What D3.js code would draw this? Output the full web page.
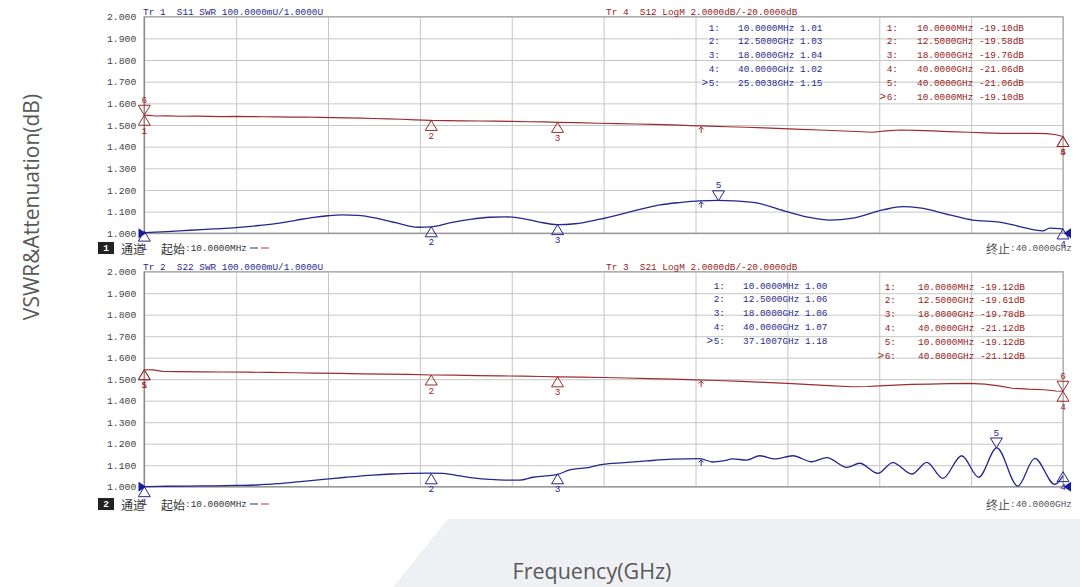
<!DOCTYPE html>
<html><head><meta charset="utf-8">
<script src="https://cdn.jsdelivr.net/npm/d3@7"></script>
<style>body{margin:0;background:#fff;} svg{display:block;}</style>
</head><body><svg id="c" width="1080" height="587"></svg>
<script>
// ---------- DATA ----------
const yTickVals = [1.0,1.1,1.2,1.3,1.4,1.5,1.6,1.7,1.8,1.9,2.0];
const xGridVals = [0.01,4.009,8.008,12.007,16.006,20.005,24.004,28.003,32.002,36.001,40];

// Top panel: S11 SWR (blue)
const s11F = [0.01,1.0,2.0,3.0,4.0,5.0,5.8,6.6,7.4,8.0,8.6,9.3,10.2,11.0,11.92,12.5,13.3,14.2,15.05,15.7,16.5,17.2,18.0,18.75,19.84,21.2,22.45,23.3,24.19,25.0,25.63,26.67,27.98,28.9,29.85,30.85,32.16,33.03,33.76,35.07,36.07,37.25,38.12,39.12,39.42,40.0];
const s11V = [1.003,1.008,1.014,1.020,1.026,1.036,1.046,1.060,1.074,1.081,1.085,1.083,1.068,1.048,1.028,1.030,1.048,1.064,1.074,1.076,1.068,1.052,1.040,1.044,1.065,1.100,1.131,1.142,1.150,1.152,1.150,1.140,1.100,1.075,1.061,1.070,1.108,1.123,1.117,1.085,1.061,1.052,1.031,1.011,1.024,1.020];
// Top panel: S12 LogM dB (red)
const s12F = [0.01,0.2,0.5,1.0,1.6,2.2,2.8,3.4,4.0,4.6,5.2,5.8,6.4,7.0,7.6,8.2,8.8,9.4,10.0,10.6,11.2,11.8,12.5,13.2,13.9,14.6,15.3,16.0,16.7,17.4,18.0,18.8,19.8,20.6,21.4,22.2,23.0,23.8,24.6,25.4,26.2,27.0,27.8,28.6,29.4,30.2,31.0,31.7,32.3,32.9,33.6,34.3,35.0,35.9,36.6,37.3,38.0,38.7,39.3,39.7,40.0];
const s12dB = [-19.10,-19.12,-19.17,-19.16,-19.19,-19.18,-19.20,-19.22,-19.21,-19.23,-19.24,-19.25,-19.27,-19.26,-19.30,-19.32,-19.35,-19.37,-19.40,-19.43,-19.47,-19.52,-19.58,-19.60,-19.61,-19.63,-19.65,-19.67,-19.70,-19.72,-19.76,-19.78,-19.84,-19.88,-19.91,-19.95,-19.99,-20.05,-20.11,-20.16,-20.21,-20.27,-20.34,-20.40,-20.46,-20.53,-20.60,-20.67,-20.55,-20.46,-20.50,-20.55,-20.62,-20.67,-20.72,-20.77,-20.77,-20.77,-20.79,-20.90,-21.06];

// Bottom panel: S22 SWR (blue)
const s22F = [0.01,1.0,2.0,3.0,4.0,4.9,5.8,6.8,7.8,8.8,9.96,10.8,11.57,12.5,13.01,13.75,14.4,15.05,15.7,16.36,16.92,17.5,17.97,18.53,19.4,19.96,20.9,21.88,23.01,24.19,24.75,25.2,25.62,26.23,26.8,27.45,28.24,29.06,29.72,30.59,31.15,31.94,32.59,33.42,34.07,34.77,35.59,36.33,37.12,38.03,38.77,39.64,40.0];
const s22V = [1.000,1.002,1.003,1.004,1.006,1.008,1.014,1.024,1.034,1.044,1.054,1.059,1.062,1.063,1.062,1.050,1.040,1.034,1.031,1.031,1.044,1.050,1.056,1.078,1.090,1.104,1.112,1.120,1.128,1.131,1.115,1.120,1.129,1.124,1.144,1.129,1.144,1.116,1.135,1.090,1.109,1.062,1.112,1.059,1.113,1.039,1.144,1.044,1.181,1.003,1.132,1.011,1.050];
// Bottom panel: S21 LogM dB (red)
const s21F = [0.01,0.4,0.8,1.5,2.5,3.5,4.5,5.5,6.5,7.5,8.5,9.5,10.5,11.5,12.5,13.5,14.5,15.5,16.5,17.3,18.0,19.0,20.0,21.0,22.0,23.0,24.0,25.0,26.0,27.0,28.0,29.0,29.8,30.8,31.5,32.0,32.7,33.4,34.2,35.0,35.9,36.6,37.2,37.8,38.5,39.2,39.7,40.0];
const s21dB = [-19.12,-19.14,-19.27,-19.29,-19.31,-19.33,-19.35,-19.37,-19.40,-19.43,-19.46,-19.50,-19.53,-19.56,-19.61,-19.63,-19.66,-19.69,-19.72,-19.75,-19.78,-19.80,-19.84,-19.89,-19.94,-20.00,-20.07,-20.12,-20.20,-20.29,-20.38,-20.50,-20.60,-20.70,-20.68,-20.63,-20.56,-20.49,-20.46,-20.42,-20.39,-20.45,-20.62,-20.84,-20.93,-20.98,-21.10,-21.12];

// Markers
const s11Markers = [{n:"1",f:0.01,v:1.01},{n:"2",f:12.5,v:1.03},{n:"3",f:18,v:1.04},{n:"4",f:40,v:1.02},{n:"5",f:25.0038,v:1.15,active:true}];
const s12Markers = [{n:"1",f:0.01,v:-19.10},{n:"2",f:12.5,v:-19.58},{n:"3",f:18,v:-19.76},{n:"4",f:40,v:-21.06},{n:"5",f:40,v:-21.06},{n:"6",f:0.01,v:-19.10,active:true}];
const s22Markers = [{n:"1",f:0.01,v:1.00},{n:"2",f:12.5,v:1.06},{n:"3",f:18,v:1.06},{n:"4",f:40,v:1.07},{n:"5",f:37.1007,v:1.18,active:true}];
const s21Markers = [{n:"1",f:0.01,v:-19.12},{n:"2",f:12.5,v:-19.61},{n:"3",f:18,v:-19.78},{n:"4",f:40,v:-21.12},{n:"5",f:0.01,v:-19.12},{n:"6",f:40,v:-21.12,active:true}];

const headers = [
  ["Tr 1  S11 SWR 100.0000mU/1.0000U", "Tr 4  S12 LogM 2.0000dB/-20.0000dB"],
  ["Tr 2  S22 SWR 100.0000mU/1.0000U", "Tr 3  S21 LogM 2.0000dB/-20.0000dB"]
];
const startLabel = ":10.0000MHz";
const stopLabel = ":40.0000GHz";
const arrowF = 24.25;

// ---------- DRAW ----------
const svg = d3.select("#c");
const MONO = "'Liberation Mono', monospace";
const CJK = "'Noto Sans CJK SC', sans-serif";
const SANS = "'Open Sans', sans-serif";
const BLUE = "#26268c", RED = "#9e2b2b";
const BLUE_T = "#2a2a8e", RED_T = "#962222";

svg.append("polygon").attr("points","448,519 1080,519 1080,587 393,587").attr("fill","#eef0f4");

const x = d3.scaleLinear().domain([0.01,40]).range([144.3,1063]);
const W = 1063 - 144.3;

const panels = [
  {top:16.7, bottom:233.3, blue:[s11F,s11V], red:[s12F,s12dB], bm:s11Markers, rm:s12Markers,
   hdrY:12, tblBlue:{end:720, val:738, y0:28}, tblRed:{end:898, val:917, y0:28}, statY:248, ch:"1"},
  {top:271.7, bottom:486.7, blue:[s22F,s22V], red:[s21F,s21dB], bm:s22Markers, rm:s21Markers,
   hdrY:267, tblBlue:{end:725, val:743, y0:286}, tblRed:{end:896, val:918, y0:287}, statY:504, ch:"2"}
];

function fmtF(f){ return f < 1 ? (f*1000).toFixed(4)+"MHz" : f.toFixed(4)+"GHz"; }

panels.forEach((p, pi) => {
  const g = svg.append("g");
  const yS = d3.scaleLinear().domain([1,2]).range([p.bottom, p.top]);
  const yD = d3.scaleLinear().domain([-30,-10]).range([p.bottom, p.top]);
  const H = p.bottom - p.top;

  // y grid + labels
  const ya = g.append("g").attr("transform",`translate(144.3,0)`)
    .call(d3.axisLeft(yS).tickValues(yTickVals).tickFormat(d3.format(".3f")).tickSize(-W).tickPadding(8));
  ya.select(".domain").remove();
  ya.selectAll("line").attr("stroke","#c6c6c6").attr("stroke-width",1);
  ya.selectAll("text").attr("font-family",MONO).attr("font-size",9.8).attr("fill","#444");
  // x grid
  const xa = g.append("g").attr("transform",`translate(0,${p.bottom})`)
    .call(d3.axisBottom(x).tickValues(xGridVals).tickFormat("").tickSize(-H));
  xa.select(".domain").remove();
  xa.selectAll("line").attr("stroke","#c6c6c6").attr("stroke-width",1);
  // frame
  g.append("rect").attr("x",144.3).attr("y",p.top).attr("width",W).attr("height",H)
    .attr("fill","none").attr("stroke","#a8a8a8").attr("stroke-width",1.2);
  g.append("line").attr("x1",144.3).attr("x2",144.3).attr("y1",p.top).attr("y2",p.bottom).attr("stroke","#8a8a8a").attr("stroke-width",1.3);
  g.append("line").attr("x1",144.3).attr("x2",1063).attr("y1",p.bottom).attr("y2",p.bottom).attr("stroke","#9a9a9a").attr("stroke-width",1.3);

  // headers
  g.append("text").attr("x",143).attr("y",p.hdrY).attr("font-family",MONO).attr("font-size",9.4)
    .attr("fill",BLUE_T).style("white-space","pre").attr("dominant-baseline","central").text(headers[pi][0]);
  g.append("text").attr("x",606).attr("y",p.hdrY).attr("font-family",MONO).attr("font-size",9.4)
    .attr("fill",RED_T).style("white-space","pre").attr("dominant-baseline","central").text(headers[pi][1]);

  // tables
  function table(ms, t, color, isDB){
    ms.forEach((m,i)=>{
      const yy = t.y0 + i*13.8;
      g.append("text").attr("x",t.end).attr("y",yy).attr("text-anchor","end").attr("dominant-baseline","central")
        .attr("font-family",MONO).attr("font-size",9.4).attr("fill",color).text(m.n+":");
      if (m.active) g.append("text").attr("x",t.end-12).attr("y",yy).attr("text-anchor","end").attr("dominant-baseline","central")
        .attr("font-family",MONO).attr("font-size",11).attr("fill",color).text(">");
      g.append("text").attr("x",t.val).attr("y",yy).attr("dominant-baseline","central")
        .attr("font-family",MONO).attr("font-size",9.4).attr("fill",color)
        .text(fmtF(m.f)+" "+(isDB ? m.v.toFixed(2)+"dB" : m.v.toFixed(2)));
    });
  }
  table(p.bm, p.tblBlue, BLUE_T, false);
  table(p.rm, p.tblRed, RED_T, true);

  // traces
  const redData = p.red[0].map((f,i)=>({f, v:p.red[1][i]}));
  const blueData = p.blue[0].map((f,i)=>({f, v:p.blue[1][i]}));
  g.append("path").datum(redData).attr("fill","none").attr("stroke",RED).attr("stroke-width",1.2)
    .attr("d", d3.line().x(d=>x(d.f)).y(d=>yD(d.v)).curve(d3.curveLinear));
  g.append("path").datum(blueData).attr("fill","none").attr("stroke",BLUE).attr("stroke-width",1.3)
    .attr("d", d3.line().x(d=>x(d.f)).y(d=>yS(d.v)).curve(d3.curveMonotoneX));

  // small arrows on traces
  const redAt = d3.scaleLinear().domain(p.red[0]).range(p.red[1]);
  const blueAt = d3.scaleLinear().domain(p.blue[0]).range(p.blue[1]);
  [[yD(redAt(arrowF)),RED],[yS(blueAt(arrowF)),BLUE]].forEach(([yy,c])=>{
    const ax = x(arrowF);
    g.append("path").attr("d",`M${ax},${yy+1} L${ax},${yy+7} M${ax-2.5},${yy+3.5} L${ax},${yy+1} L${ax+2.5},${yy+3.5}`)
      .attr("stroke",c).attr("fill","none").attr("stroke-width",1);
  });

  // markers
  function marker(m, ys, color){
    const px = x(m.f), py = ys(m.v);
    if (m.active){
      g.append("path").attr("d",`M${px},${py} L${px-6},${py-10} L${px+6},${py-10} Z`).attr("fill","none").attr("stroke",color).attr("stroke-width",1);
      g.append("text").attr("x",px).attr("y",py-15).attr("text-anchor","middle").attr("dominant-baseline","central")
        .attr("font-family",MONO).attr("font-size",9.4).attr("fill",color).text(m.n);
    } else {
      g.append("path").attr("d",`M${px},${py} L${px-6},${py+10} L${px+6},${py+10} Z`).attr("fill","none").attr("stroke",color).attr("stroke-width",1);
      g.append("text").attr("x",px).attr("y",py+16).attr("text-anchor","middle").attr("dominant-baseline","central")
        .attr("font-family",MONO).attr("font-size",9.4).attr("fill",color).text(m.n);
    }
  }
  p.rm.forEach(m=>marker(m,yD,RED));
  p.bm.forEach(m=>marker(m,yS,BLUE));

  // reference arrows at 1.000
  const yr = yS(1);
  g.append("path").attr("d",`M138.5,${yr-5} L146,${yr} L138.5,${yr+5} Z`).attr("fill","#1a1aa0");
  g.append("path").attr("d",`M1071,${yr-5} L1063.5,${yr} L1071,${yr+5} Z`).attr("fill","#1a1aa0");

  // status bar
  const sy = p.statY;
  g.append("rect").attr("x",98).attr("y",sy-6).attr("width",16).attr("height",12).attr("fill","#222");
  g.append("text").attr("x",106).attr("y",sy).attr("text-anchor","middle").attr("dominant-baseline","central")
    .attr("font-family",MONO).attr("font-size",9.5).attr("font-weight","bold").attr("fill","#fff").text(p.ch);
  g.append("text").attr("x",121).attr("y",sy).attr("dominant-baseline","central")
    .attr("font-family",CJK).attr("font-size",12).attr("fill","#333").text("通道");
  const st = g.append("text").attr("x",161).attr("y",sy).attr("dominant-baseline","central").attr("fill","#333");
  st.append("tspan").attr("font-family",CJK).attr("font-size",12).text("起始");
  st.append("tspan").attr("font-family",MONO).attr("font-size",9.4).text(startLabel);
  g.append("line").attr("x1",250).attr("x2",258).attr("y1",sy).attr("y2",sy).attr("stroke","#6f6fb0").attr("stroke-width",1.5);
  g.append("line").attr("x1",261).attr("x2",269).attr("y1",sy).attr("y2",sy).attr("stroke","#c88080").attr("stroke-width",1.5);
  const et = g.append("text").attr("x",1072).attr("y",sy).attr("text-anchor","end").attr("dominant-baseline","central").attr("fill","#555");
  et.append("tspan").attr("font-family",CJK).attr("font-size",12).text("终止");
  et.append("tspan").attr("font-family",MONO).attr("font-size",9.4).text(stopLabel);
});

// axis titles
svg.append("text").attr("transform","translate(31,207) rotate(-90)").attr("text-anchor","middle").attr("dominant-baseline","central")
  .attr("font-family",SANS).attr("font-size",21).attr("fill","#595959").text("VSWR&Attenuation(dB)");
svg.append("text").attr("x",592).attr("y",570).attr("text-anchor","middle").attr("dominant-baseline","central")
  .attr("font-family",SANS).attr("font-size",21.5).attr("fill","#595959").text("Frequency(GHz)");
</script></body></html>
